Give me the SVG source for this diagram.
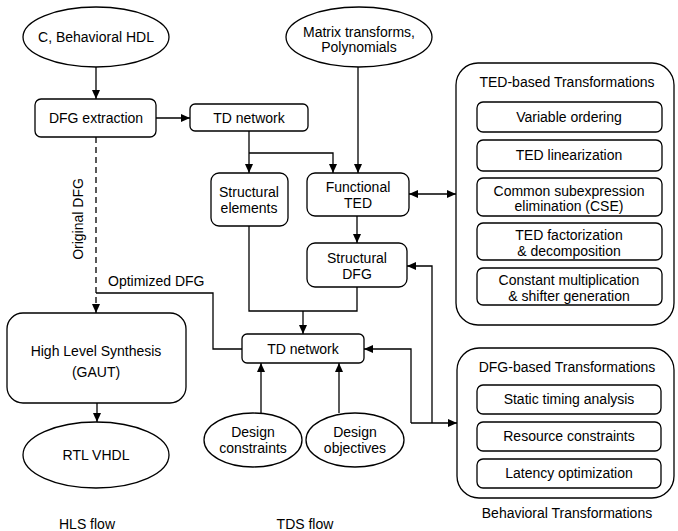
<svg xmlns="http://www.w3.org/2000/svg" width="678" height="531" viewBox="0 0 678 531">
  <defs>
    <marker id="arrow" markerUnits="userSpaceOnUse" markerWidth="10" markerHeight="9" refX="9" refY="4" orient="auto-start-reverse">
      <path d="M0,0 L9,4 L0,8 z" fill="#000"/>
    </marker>
  </defs>
  <style>
    .shape { fill: #fff; stroke: #000; stroke-width: 1.3; }
    .wire { fill: none; stroke: #000; stroke-width: 1.3; }
    .arr { marker-end: url(#arrow); }
    .both { marker-start: url(#arrow); marker-end: url(#arrow); }
    .dash { stroke-dasharray: 6 4; }
    text { font-family: "Liberation Sans", Arial, sans-serif; font-size: 14px; fill: #000; text-anchor: middle; }
  </style>
  <rect width="678" height="531" fill="#fff"/>

  <!-- connectors -->
  <g id="connectors">
    <path class="wire arr" d="M96,67 V99"/>
    <path class="wire arr" d="M156,118 H190"/>
    <path class="wire arr" d="M249,131 V173"/>
    <path class="wire arr" d="M249,153 H333 V173"/>
    <path class="wire arr" d="M358,67 V173"/>
    <path class="wire both" d="M409,194 H456"/>
    <path class="wire arr" d="M357,216 V243"/>
    <path class="wire" d="M249,226 V311 H357 V287"/>
    <path class="wire arr" d="M303,311 V334"/>
    <path class="wire dash arr" d="M96,137 V313"/>
    <path class="wire" d="M96,293 H213 V349 H242"/>
    <path class="wire arr" d="M97,403 V422"/>
    <path class="wire arr" d="M261,414 V363"/>
    <path class="wire arr" d="M339,413 V363"/>
    <path class="wire arr" d="M411,423 H457"/>
    <path class="wire arr" d="M411,423 V349 H364"/>
    <path class="wire arr" d="M432,423 V266 H407"/>
  </g>

  <!-- HLS flow -->
  <g id="src-c">
    <ellipse class="shape" cx="96" cy="37" rx="73" ry="30"/>
    <text x="96" y="42">C, Behavioral HDL</text>
  </g>
  <g id="dfg-extraction">
    <rect class="shape" x="35" y="99" width="121" height="38" rx="6"/>
    <text x="96" y="123">DFG extraction</text>
  </g>
  <g id="hls">
    <rect class="shape" x="7" y="313" width="179" height="90" rx="16"/>
    <text x="96" y="356">High Level Synthesis</text>
    <text x="96" y="377">(GAUT)</text>
  </g>
  <g id="rtl">
    <ellipse class="shape" cx="96" cy="455" rx="73" ry="33"/>
    <text x="96" y="460">RTL VHDL</text>
  </g>
  <g id="edge-labels">
    <text transform="translate(83,219) rotate(-90)">Original DFG</text>
    <text x="108" y="286" style="text-anchor:start">Optimized DFG</text>
  </g>

  <!-- TDS flow -->
  <g id="matrix">
    <ellipse class="shape" cx="359" cy="37" rx="73" ry="30"/>
    <text x="359" y="37">Matrix transforms,</text>
    <text x="359" y="52">Polynomials</text>
  </g>
  <g id="td-network-top">
    <rect class="shape" x="190" y="104" width="118" height="27" rx="5"/>
    <text x="249" y="123">TD network</text>
  </g>
  <g id="structural-elements">
    <rect class="shape" x="211" y="173" width="77" height="53" rx="8"/>
    <text x="249" y="197">Structural</text>
    <text x="249" y="213">elements</text>
  </g>
  <g id="functional-ted">
    <rect class="shape" x="307" y="173" width="102" height="43" rx="8"/>
    <text x="358" y="192">Functional</text>
    <text x="358" y="208">TED</text>
  </g>
  <g id="structural-dfg">
    <rect class="shape" x="307" y="243" width="100" height="44" rx="8"/>
    <text x="357" y="263">Structural</text>
    <text x="357" y="279">DFG</text>
  </g>
  <g id="td-network-bottom">
    <rect class="shape" x="242" y="334" width="122" height="29" rx="5"/>
    <text x="303" y="354">TD network</text>
  </g>
  <g id="design-constraints">
    <ellipse class="shape" cx="253" cy="440" rx="49" ry="27"/>
    <text x="253" y="437">Design</text>
    <text x="253" y="453">constraints</text>
  </g>
  <g id="design-objectives">
    <ellipse class="shape" cx="355" cy="440" rx="49" ry="27"/>
    <text x="355" y="437">Design</text>
    <text x="355" y="453">objectives</text>
  </g>

  <!-- Behavioral transformations -->
  <g id="ted-transforms">
    <rect class="shape" x="456" y="63" width="218" height="262" rx="22"/>
    <text x="567" y="87">TED-based Transformations</text>
    <rect class="shape" x="477" y="102" width="185" height="30" rx="6"/>
    <text x="569" y="122">Variable ordering</text>
    <rect class="shape" x="477" y="140" width="185" height="31" rx="6"/>
    <text x="569" y="160">TED linearization</text>
    <rect class="shape" x="477" y="178" width="185" height="38" rx="6"/>
    <text x="569" y="196">Common subexpression</text>
    <text x="569" y="211">elimination (CSE)</text>
    <rect class="shape" x="477" y="223" width="185" height="37" rx="6"/>
    <text x="569" y="240">TED factorization</text>
    <text x="569" y="256">&amp; decomposition</text>
    <rect class="shape" x="477" y="268" width="185" height="37" rx="6"/>
    <text x="569" y="285">Constant multiplication</text>
    <text x="569" y="301">&amp; shifter generation</text>
  </g>
  <g id="dfg-transforms">
    <rect class="shape" x="457" y="348" width="217" height="150" rx="22"/>
    <text x="567" y="372">DFG-based Transformations</text>
    <rect class="shape" x="477" y="385" width="184" height="29" rx="6"/>
    <text x="569" y="404">Static timing analysis</text>
    <rect class="shape" x="477" y="422" width="184" height="29" rx="6"/>
    <text x="569" y="441">Resource constraints</text>
    <rect class="shape" x="477" y="459" width="184" height="29" rx="6"/>
    <text x="569" y="478">Latency optimization</text>
  </g>

  <!-- column captions -->
  <g id="captions">
    <text x="87" y="529">HLS flow</text>
    <text x="305" y="529">TDS flow</text>
    <text x="567" y="518">Behavioral Transformations</text>
  </g>
</svg>
